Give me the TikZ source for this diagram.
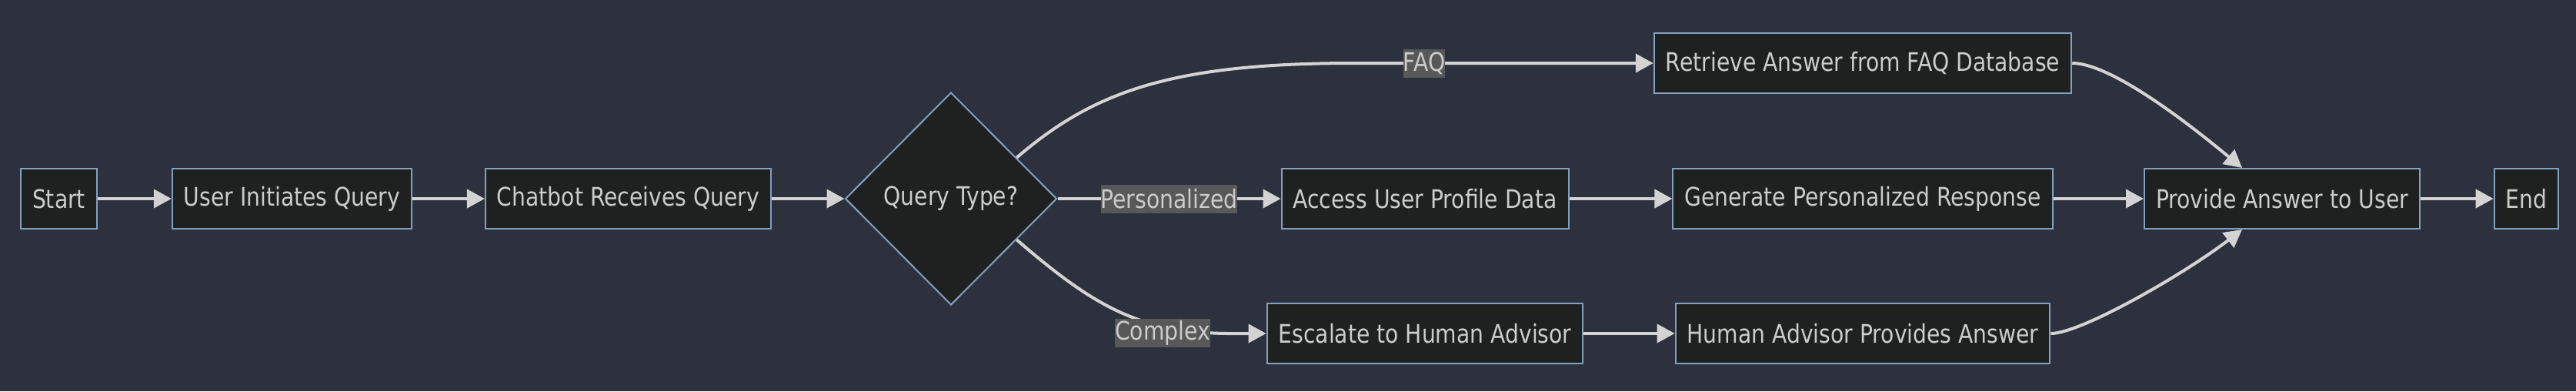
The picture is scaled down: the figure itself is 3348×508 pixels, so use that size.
\documentclass[tikz,border=0pt]{standalone}
\usepackage{fontspec}
\setmainfont{DejaVu Sans}[FakeStretch=0.85]
\usepackage{tikz}
\usetikzlibrary{arrows.meta, shapes.geometric, calc}
\definecolor{chatBack}{HTML}{2D303D}
\definecolor{chatFill}{HTML}{1F2020}
\definecolor{chatBorder}{HTML}{81A1C1}
\definecolor{chatText}{HTML}{CCCCCC}
\definecolor{chatLine}{HTML}{D3D3D3}
\definecolor{chatLabel}{HTML}{585858}

\begin{document}
\begin{tikzpicture}[x=0.25pt, y=-0.25pt,
    font=\fontsize{8.3pt}{10pt}\selectfont,
    box/.style={draw=chatBorder, fill=chatFill, text=chatText, line width=0.5pt,
      minimum height=19.5pt, inner xsep=3.75pt, inner ysep=0pt},
    choice/.style={diamond, draw=chatBorder, fill=chatFill, text=chatText, line width=0.5pt,
      minimum width=68.75pt, minimum height=69pt, inner sep=0pt},
    flow/.style={chatLine, line width=1pt, -{Triangle[length=5.75pt, width=6pt]}},
    lbl/.style={fill=chatLabel, text=chatText, inner sep=0pt, minimum height=9.25pt}]

  \fill[chatBack] (0, 0) rectangle (3348, 508);
  \useasboundingbox (0, 0) rectangle (3348, 508);

  \node[box] (start) at (76.5, 258) {Start};
  \node[box] (user) at (379.5, 258) {User Initiates Query};
  \node[box] (bot) at (816.5, 258) {Chatbot Receives Query};
  \node[choice] (type) at (1236, 258) {Query Type?};
  \node[box] (faqdb) at (2421, 82) {Retrieve Answer from FAQ Database};
  \node[box] (profile) at (1852, 258) {Access User Profile Data};
  \node[box] (reply) at (2421, 258) {Generate Personalized Response};
  \node[box] (escalate) at (1852, 433) {Escalate to Human Advisor};
  \node[box] (human) at (2421, 433) {Human Advisor Provides Answer};
  \node[box] (answer) at (2966, 258) {Provide Answer to User};
  \node[box] (end) at (3283.5, 258) {End};

  \draw[flow] (start) -- (user);
  \draw[flow] (user) -- (bot);
  \draw[flow] (bot) -- (type);
  \draw[flow] (type.32) .. controls (1420, 120) and (1520, 82) .. (1760, 82)
    -- node[lbl, pos=0.234] (faq) {FAQ} (faqdb.west);
  \draw[flow] (type) -- node[lbl] (pers) {Personalized} (profile);
  \draw[flow] (type.-32) .. controls (1420, 396) and (1480, 433) .. node[lbl, pos=0.72, yshift=-2pt] (cplx) {Complex} (1600, 433)
    -- (escalate);
  \draw[flow] (profile) -- (reply);
  \draw[flow] (escalate) -- (human);
  % the three branches meet again
  \draw[flow] (faqdb.east) .. controls (2745, 82) and (2850, 165) .. ($(answer.north)+(-52, 0)$);
  \draw[flow] (reply) -- (answer);
  \draw[flow] (human.east) .. controls (2705, 433) and (2840, 355) .. ($(answer.south)+(-52, 0)$);
  \draw[flow] (answer) -- (end);

\end{tikzpicture}
\end{document}
